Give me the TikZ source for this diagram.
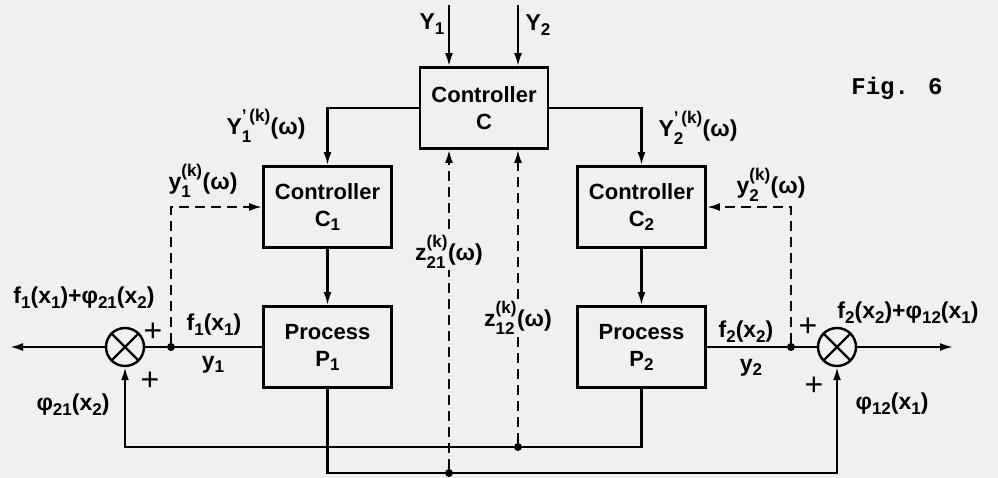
\documentclass[tikz,border=0pt]{standalone}
\usepackage{amsmath}
\usepackage{fontspec}
\setmainfont{Liberation Sans}
\newfontfamily\twfont{Liberation Mono}
\usetikzlibrary{arrows.meta}
\newcommand\sbs[1]{\raisebox{-0.35ex}{\fontsize{17}{17}\selectfont #1}}
\newcommand\supk[2]{$^{\text{\raisebox{0.45ex}{\fontsize{17}{17}\selectfont #1}}}_{\text{\raisebox{-0.2ex}{\fontsize{17}{17}\selectfont #2}}}$}
\begin{document}
\begin{tikzpicture}[x=1pt,y=-1pt,
  box/.style={draw,line width=2.8pt,minimum width=128pt,minimum height=81pt,align=center,inner sep=0pt,font=\bfseries\fontsize{22}{27}\selectfont},
  sig/.style={line width=2.2pt},
  arr/.style={sig,-{Latex[length=13pt,width=8pt]}},
  dsh/.style={sig,dash pattern=on 10pt off 6pt},
  darr/.style={dsh,-{Latex[length=13pt,width=8pt]}},
  lab/.style={font=\bfseries\fontsize{23}{26}\selectfont,inner sep=0pt},
  plus/.style={font=\fontsize{32}{32}\selectfont,inner sep=0pt},
  figlab/.style={font=\twfont\bfseries\fontsize{24}{28}\selectfont,inner sep=0pt},
  dot/.style={circle,fill,inner sep=0pt,minimum size=8pt},
  summ/.style={circle,draw,line width=2.4pt,minimum size=38pt,inner sep=0pt}]
\fill[black!6] (0,0) rectangle (998,478);
\useasboundingbox (0,0) rectangle (998,478);
% boxes
\node[box] (C)  at (484,108)   {Controller\\C};
\node[box] (C1) at (327.5,207) {Controller\\C\sbs{1}};
\node[box] (C2) at (641.5,207) {Controller\\C\sbs{2}};
\node[box] (P1) at (327.5,347) {Process\\P\sbs{1}};
\node[box] (P2) at (641.5,347) {Process\\P\sbs{2}};
% inputs to C
\coordinate (y1in) at (449,5);
\coordinate (y2in) at (518,5);
\draw[arr] (y1in) -- (y1in |- C.north);
\draw[arr] (y2in) -- (y2in |- C.north);
\node[lab] (lY1) at (432,24) {Y\sbs{1}};
\node[lab] (lY2) at (538,25) {Y\sbs{2}};
% C outputs
\draw[arr] (C.west) -- (C.west -| C1.north) -- (C1.north);
\draw[arr] (C.east) -- (C.east -| C2.north) -- (C2.north);
\draw[arr] (C1.south) -- (P1.north);
\draw[arr] (C2.south) -- (P2.north);
% summing points
\node[summ] (s1) at (125,347) {};
\draw[sig] (s1.45) -- (s1.225) (s1.135) -- (s1.315);
\node[summ] (s2) at (837,347) {};
\draw[sig] (s2.45) -- (s2.225) (s2.135) -- (s2.315);
\node[dot] (d1) at (171,347) {};
\node[dot] (d2) at (791,347) {};
\draw[sig] (P1.west) -- (d1) -- (s1.east);
\draw[sig] (P2.east) -- (d2) -- (s2.west);
\coordinate (out1) at (10,347);
\coordinate (out2) at (953,347);
\draw[arr] (s1.west) -- (out1);
\draw[arr] (s2.east) -- (out2);
% dashed local feedback
\coordinate (k1) at (171,207);
\coordinate (k2) at (791,207);
\draw[darr] (d1) -- (k1) -- (C1.west);
\draw[darr] (d2) -- (k2) -- (C2.east);
% cross couplings
\coordinate (q1) at (327.5,473);
\coordinate (q2) at (837,473);
\draw[arr] (P1.south) -- (q1) -- (q2) -- (s2.south);
\coordinate (r1) at (641.5,447);
\coordinate (r2) at (125,447);
\draw[arr] (P2.south) -- (r1) -- (r2) -- (s1.south);
\node[dot] (b21) at (449,473) {};
\node[dot] (b12) at (518,447) {};
\draw[darr] (b21) -- (b21 |- C.south);
\draw[darr] (b12) -- (b12 |- C.south);
% labels
\node[lab] (lY1k) at (266,126) {Y\supk{'\,(k)}{1}(ω)};
\node[lab] (lY2k) at (698,128) {Y\supk{'\,(k)}{2}(ω)};
\node[lab] (ly1k) at (203,181) {y\supk{(k)}{1}(ω)};
\node[lab] (ly2k) at (771,185) {y\supk{(k)}{2}(ω)};
\node[lab,fill=black!6,inner sep=1pt] (lz21) at (449,252) {z\supk{(k)}{21}(ω)};
\node[lab,fill=black!6,inner sep=1pt] (lz12) at (518,318) {z\supk{(k)}{12}(ω)};
\node[lab] (lsum1) at (84,298) {f\sbs{1}(x\sbs{1})+φ\sbs{21}(x\sbs{2})};
\node[plus] (lp1a) at (153,332) {+};
\node[plus] (lp1b) at (150,381) {+};
\node[lab] (lf1) at (214,325) {f\sbs{1}(x\sbs{1})};
\node[lab] (ly1) at (213,365) {y\sbs{1}};
\node[lab] (lphi21) at (73,405) {φ\sbs{21}(x\sbs{2})};
\node[lab] (lf2) at (746,332) {f\sbs{2}(x\sbs{2})};
\node[lab] (ly2) at (751,368) {y\sbs{2}};
\node[plus] (lp2a) at (808,327) {+};
\node[plus] (lp2b) at (814,386) {+};
\node[lab] (lsum2) at (908,313) {f\sbs{2}(x\sbs{2})+φ\sbs{12}(x\sbs{1})};
\node[lab] (lphi12) at (892,404) {φ\sbs{12}(x\sbs{1})};
\node[figlab] (fig) at (897,88) {Fig. 6};
\end{tikzpicture}
\end{document}
